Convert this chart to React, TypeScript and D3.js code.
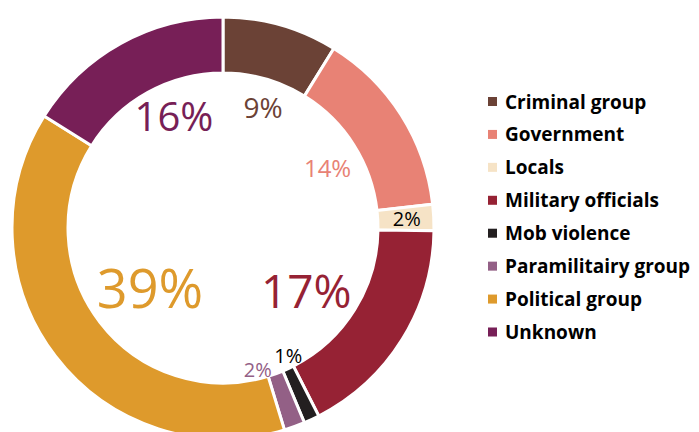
import React, { useRef, useEffect } from 'react';
import * as d3 from 'd3';

const categories = ['Criminal group', 'Government', 'Locals', 'Military officials', 'Mob violence', 'Paramilitairy group', 'Political group', 'Unknown'];
const shares = [8.8, 14.4, 2.0, 17.3, 1.2, 1.6, 38.6, 16.1];
const colors = ['#6B4236', '#E88275', '#F6E3C6', '#962234', '#231F20', '#936086', '#DE9A2C', '#771F57'];

// label tweaks: angle offset (deg), radius, font size, text colour override
const labelLayout = {
    'Criminal group': { dA: 2.5, r: 127, size: 28 },
    'Government': { dA: 2.2, r: 121, size: 24 },
    'Locals': { dA: 0, r: 184, size: 20, fill: '#000' },
    'Military officials': { dA: 4.9, r: 104, size: 46 },
    'Mob violence': { dA: -2.3, r: 143, size: 20, fill: '#000' },
    'Paramilitairy group': { dA: 6, r: 146, size: 20 },
    'Political group': { dA: -1.6, r: 94, size: 54 },
    'Unknown': { dA: 5.5, r: 123, size: 40 },
};

const W = 699, H = 432;
const cx = 223, cy = 228;
const outerR = 211, innerR = 155;

const App = () => {
    const ref = useRef(null);

    useEffect(() => {
        const svg = d3.select(ref.current);
        svg.selectAll('*').remove();

        const data = categories.map((c, i) => ({ name: c, value: shares[i], color: colors[i] }));
        const pie = d3.pie().value(d => d.value).sort(null);
        const arcs = pie(data);
        const arc = d3.arc().innerRadius(innerR).outerRadius(outerR);

        const g = svg.append('g').attr('transform', `translate(${cx},${cy})`);

        g.selectAll('path')
            .data(arcs)
            .join('path')
            .attr('d', arc)
            .attr('fill', d => d.data.color)
            .attr('stroke', '#fff')
            .attr('stroke-width', 3);

        g.selectAll('text.pct')
            .data(arcs)
            .join('text')
            .attr('class', 'pct')
            .each(function (d) {
                const L = labelLayout[d.data.name];
                const a = (d.startAngle + d.endAngle) / 2 + (L.dA * Math.PI) / 180;
                d3.select(this)
                    .attr('x', Math.sin(a) * L.r)
                    .attr('y', -Math.cos(a) * L.r)
                    .attr('font-size', L.size)
                    .attr('fill', L.fill || d.data.color);
            })
            .attr('text-anchor', 'middle')
            .attr('dominant-baseline', 'central')
            .attr('font-family', '"Open Sans", sans-serif')
            .text(d => `${Math.round(d.data.value)}%`);

        const y = d3.scalePoint().domain(categories).range([101.5, 332]);
        const legend = svg.append('g');
        const items = legend.selectAll('g')
            .data(data)
            .join('g')
            .attr('transform', d => `translate(488,${y(d.name)})`);
        items.append('rect')
            .attr('x', 0).attr('y', -4.5)
            .attr('width', 9).attr('height', 9)
            .attr('fill', d => d.color);
        items.append('text')
            .attr('x', 17)
            .attr('dominant-baseline', 'central')
            .attr('font-family', '"Open Sans", sans-serif')
            .attr('font-weight', 'bold')
            .attr('font-size', 19)
            .attr('fill', '#000')
            .text(d => d.name);
    }, []);

    return <svg ref={ref} width={W} height={H} style={{ position: 'absolute', left: 0, top: 0, background: '#fff' }}></svg>;
};

export default App;
